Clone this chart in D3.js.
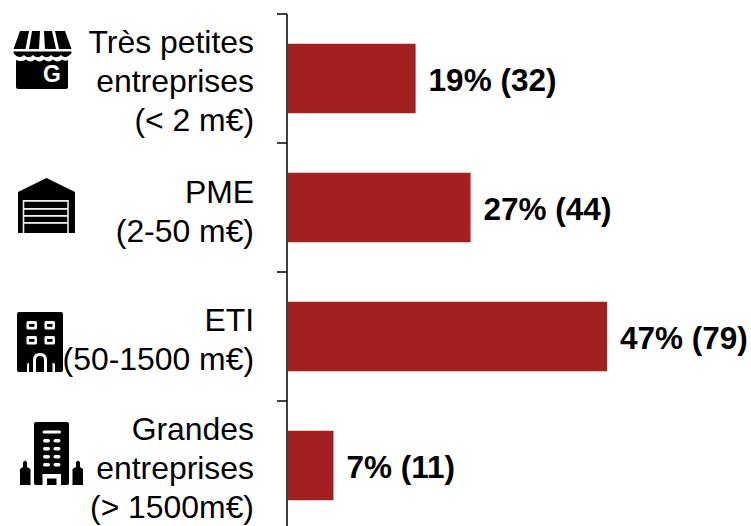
<!DOCTYPE html>
<html><head><meta charset="utf-8">
<script src="https://cdnjs.cloudflare.com/ajax/libs/d3/7.8.5/d3.min.js"></script>
<style>html,body{margin:0;padding:0;background:#fff}svg{display:block}</style></head>
<body><div id="c"></div>
<script>
const categories = ["tpe","pme","eti","ge"];
const categoryLines = [["Très petites","entreprises","(< 2 m€)"],["PME","(2-50 m€)"],["ETI","(50-1500 m€)"],["Grandes","entreprises","(> 1500m€)"]];
const percents = [19,27,47,7];
const counts = [32,44,79,11];
const barValues = [18.8,26.9,47,6.7];

const W=751,H=526,fs=31.9,lh=39;
const svg=d3.select("#c").append("svg").attr("width",W).attr("height",H)
  .style("font-family","'Liberation Sans',Arial,sans-serif");
const x=d3.scaleLinear().domain([0,47]).range([288,607]);
const y=d3.scaleBand().domain(categories).range([14,530]);
const bh=69.5;
const yc=c=>y(c)+y.bandwidth()/2;

svg.selectAll("rect.bar").data(categories).join("rect").attr("class","bar")
  .attr("x",x(0)).attr("y",c=>yc(c)-bh/2).attr("height",bh)
  .attr("width",(c,i)=>x(barValues[i])-x(0)).attr("fill","#a32020");

svg.append("line").attr("x1",287).attr("x2",287).attr("y1",14).attr("y2",H).attr("stroke","#000").attr("stroke-width",1.5);
svg.selectAll("line.tick").data(categories).join("line").attr("class","tick")
  .attr("x1",277).attr("x2",287).attr("y1",c=>y(c)).attr("y2",c=>y(c)).attr("stroke","#000").attr("stroke-width",1.5);

svg.selectAll("text.val").data(categories).join("text").attr("class","val")
  .attr("x",(c,i)=>x(barValues[i])+13).attr("y",c=>yc(c)+12)
  .attr("font-size",31.5).attr("font-weight","bold").attr("fill","#000")
  .text((c,i)=>`${percents[i]}% (${counts[i]})`);

const labelCenters=[81,211,339,468];
categories.forEach((c,i)=>{
  const lines=categoryLines[i];
  const t=svg.append("text").attr("text-anchor","end").attr("font-size",fs).attr("fill","#000");
  lines.forEach((l,j)=>t.append("tspan").attr("x",254)
    .attr("y",labelCenters[i]+(j-(lines.length-1)/2)*lh+11).text(l));
});

// pictograms (decorative, drawn in local units)
const shop=svg.append("g").attr("transform","translate(14,31)");
shop.append("path").attr("d","M6 0H15L11.5 18H-0.5ZM18 0H26L25 18H15ZM30 0H38L42 18H31ZM41 0H51L57.5 18H45ZM-0.5 20.5H57.5V22C54 27 50 27 47 24C44 27 40 27 37 24C34 27 31 27 28 24C25 27 22 27 19 24C16 27 13 27 10 24C7 27 3 27 -0.5 22Z");
shop.append("path").attr("d","M2 29C6 31 9 30 12 28.5C15 31 18 31 21 28.5C24 31 27 31 30 28.5C33 31 36 31 39 28.5C42 31 45 31 48 28.5C50 30 52 30 54 29V56Q54 58 52 58H4Q2 58 2 56Z");
shop.append("text").attr("x",38).attr("y",50.5).attr("text-anchor","middle").attr("font-size",23).attr("font-weight","bold").attr("fill","#fff").text("G");

const gar=svg.append("g").attr("transform","translate(18,178)");
gar.append("path").attr("d","M0 14L28.5 0L57 14V55H0Z");
gar.selectAll("rect").data([22,30,37,44]).join("rect").attr("x",5).attr("width",45).attr("y",d=>d).attr("height",1.8).attr("fill","#eee");
gar.append("path").attr("d","M5.5 22V55M50 22V55").attr("stroke","#eee").attr("stroke-width",1.6);

const eti=svg.append("g").attr("transform","translate(17,312)");
eti.append("rect").attr("width",46).attr("height",60).attr("rx",2);
eti.selectAll("rect.w").data([[9.5,9],[27.5,9],[9.5,24],[27.5,24]]).join("rect").attr("class","w").attr("x",d=>d[0]).attr("y",d=>d[1]).attr("width",10.5).attr("height",8.5).attr("rx",1.5).attr("fill","#fff");
eti.selectAll("rect.p").data([[12,12],[30,12],[12,27],[30,27]]).join("rect").attr("class","p").attr("x",d=>d[0]).attr("y",d=>d[1]).attr("width",5.5).attr("height",2.8);
eti.append("path").attr("d","M16 60V48Q16 41 23 41Q30 41 30 48V60H27V48Q27 44 23 44Q19 44 19 48V60ZM10 60V52L12 50.5V60ZM35.5 60V50.5L38 52V60Z").attr("fill","#fff");

const ge=svg.append("g").attr("transform","translate(20,422)");
ge.append("rect").attr("x",14).attr("width",35).attr("height",63).attr("rx",2);
ge.append("path").attr("d","M0 63V47L3 45V40L5 38.5L7 40V45L10.5 47V63ZM52.5 63V47L56 45V40L58 38.5L60 40V45L63 47V63Z");
ge.append("rect").attr("x",22.5).attr("y",8.5).attr("width",18.5).attr("height",3).attr("rx",1.5).attr("fill","#fff");
[17,25,33,41].forEach(yy=>[[23,7],[33.5,7]].forEach(d=>ge.append("rect").attr("x",d[0]).attr("y",yy).attr("width",d[1]).attr("height",3.5).attr("rx",1.7).attr("fill","#fff")));
ge.append("path").attr("d","M22.5 63V52H41V63H36.5V56.5H27V63Z").attr("fill","#fff");
</script></body></html>
